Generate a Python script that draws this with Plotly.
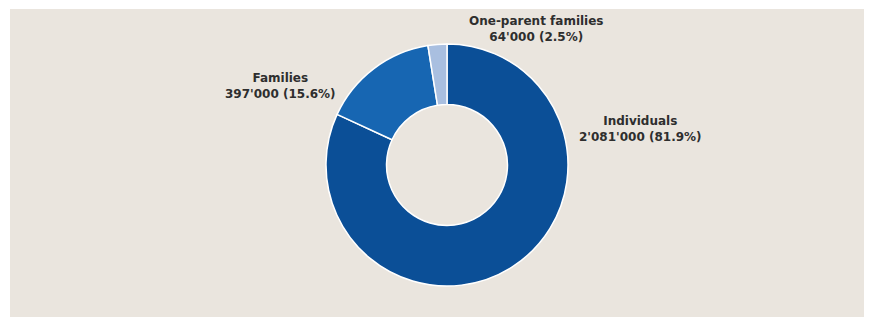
import plotly.graph_objects as go

labels = ["Individuals", "Families", "One-parent families"]
values = [2081000, 397000, 64000]
colors = ["#0b4f97", "#1766b2", "#a9bfe0"]

total = sum(values)

def fmt(v):
    return f"{v:,}".replace(",", "'")

texts = [f"<b>{l}</b><br><b>{fmt(v)} ({v / total * 100:.1f}%)</b>" for l, v in zip(labels, values)]

W, H = 869, 324
cx, cy, r = 447, 165, 121

fig = go.Figure()
fig.add_trace(go.Pie(
    labels=labels, values=values, hole=0.5, sort=False, direction="clockwise", rotation=0,
    marker=dict(colors=colors, line=dict(color="#ffffff", width=1.5)),
    textinfo="none", hoverinfo="label+value+percent", showlegend=False,
    domain=dict(x=[(cx - r) / W, (cx + r) / W], y=[1 - (cy + r) / H, 1 - (cy - r) / H]),
))

# label anchor positions (px, centre of text block)
label_pos = [(640, 129), (280, 86), (536, 29)]
for t, (px, py) in zip(texts, label_pos):
    fig.add_annotation(x=px / W, y=1 - py / H, xref="paper", yref="paper", text=t,
                       showarrow=False, xanchor="center", yanchor="middle",
                       font=dict(family="DejaVu Sans", size=12, color="#2e2e2e"))

fig.add_shape(type="rect", xref="paper", yref="paper", x0=10 / W, x1=864 / W, y0=1 - 317 / H, y1=1 - 9 / H,
              fillcolor="#eae5de", line=dict(width=0), layer="below")

fig.update_layout(width=W, height=H, margin=dict(l=0, r=0, t=0, b=0),
                  paper_bgcolor="#ffffff", plot_bgcolor="#ffffff")
fig.write_html("out.html")
